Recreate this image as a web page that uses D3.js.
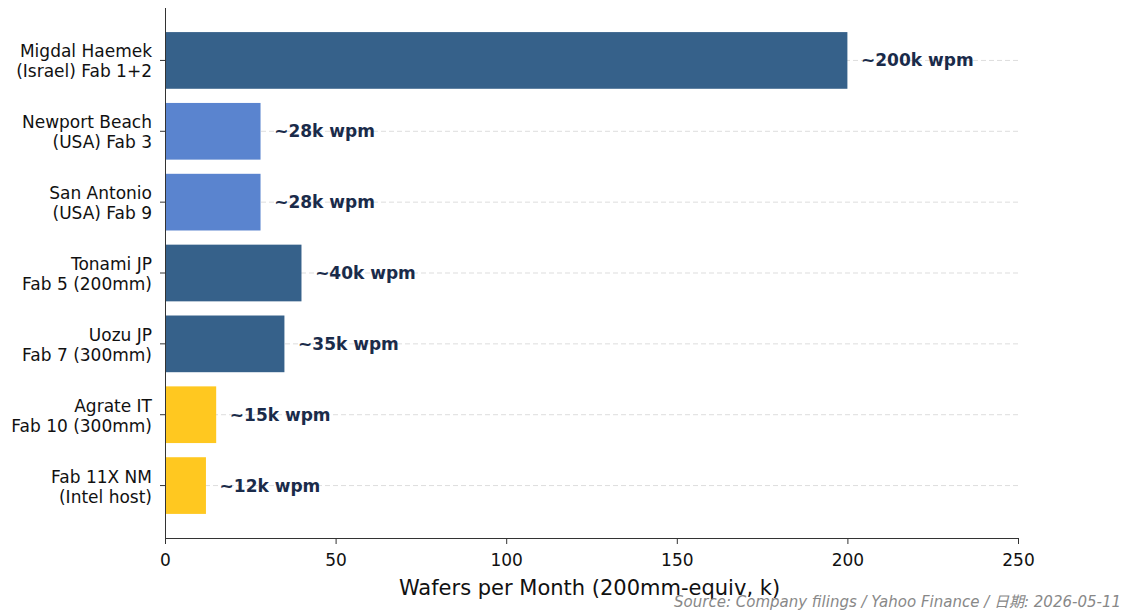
<!DOCTYPE html>
<html><head><meta charset="utf-8">
<script src="https://cdn.jsdelivr.net/npm/d3@7"></script>
<style>body{margin:0;background:#fff;} svg{display:block;font-family:"DejaVu Sans",sans-serif;}</style>
</head><body>
<svg id="c" width="1125" height="612"></svg>
<script>
const categories = [["Migdal Haemek","(Israel) Fab 1+2"],["Newport Beach","(USA) Fab 3"],["San Antonio","(USA) Fab 9"],["Tonami JP","Fab 5 (200mm)"],["Uozu JP","Fab 7 (300mm)"],["Agrate IT","Fab 10 (300mm)"],["Fab 11X NM","(Intel host)"]];
const values = [200, 28, 28, 40, 35, 15, 12];
const valueLabels = ["~200k wpm","~28k wpm","~28k wpm","~40k wpm","~35k wpm","~15k wpm","~12k wpm"];
const groups = ["own","us","us","own","own","partner","partner"];
const xTicks = [0, 50, 100, 150, 200, 250];
const colorMap = {own:"#36618a", us:"#5a84cf", partner:"#ffc820"};

const svg = d3.select("#c");
const L = 165, R = 1018, T = 8, B = 538;
const x = d3.scaleLinear().domain([0, 250]).range([L, R]);
const y = d3.scaleLinear().domain([-0.74, 6.74]).range([T, B]);
const bh = y(0.4) - y(-0.4);

// grid
svg.append("g").selectAll("line").data(values).join("line")
  .attr("x1", L).attr("x2", R)
  .attr("y1", (d,i)=>y(i)).attr("y2", (d,i)=>y(i))
  .attr("stroke", "#dddddd").attr("stroke-width", 1).attr("stroke-dasharray", "5,3");

// bars
svg.append("g").selectAll("rect").data(values).join("rect")
  .attr("x", x(0)).attr("y", (d,i)=>y(i) - bh/2)
  .attr("width", d => x(d) - x(0)).attr("height", bh)
  .attr("fill", (d,i)=>colorMap[groups[i]]);

// value labels
svg.append("g").selectAll("text").data(values).join("text")
  .attr("x", d => x(d + 4)).attr("y", (d,i)=>y(i))
  .attr("dy", "0.35em")
  .attr("font-size", 17).attr("font-weight", "bold").attr("fill", "#1a2b4a")
  .text((d,i)=>valueLabels[i]);

// x axis
const xAxis = d3.axisBottom(x).tickValues(xTicks).tickSize(6).tickPadding(10);
const gx = svg.append("g").attr("transform", `translate(0,${B})`).call(xAxis);
gx.select(".domain").attr("stroke", "#333").attr("d", `M${L},0.5H${R}`);
gx.selectAll(".tick line").attr("stroke", "#333");
gx.selectAll(".tick text").attr("font-size", 17).attr("fill", "#111").attr("font-family", "DejaVu Sans");

// y axis
const gy = svg.append("g");
gy.append("line").attr("x1", L+0.5).attr("x2", L+0.5).attr("y1", T).attr("y2", B).attr("stroke", "#333");
const yt = gy.selectAll("g.t").data(categories).join("g").attr("class","t");
yt.append("line").attr("x1", L-5).attr("x2", L).attr("y1", (d,i)=>y(i)).attr("y2", (d,i)=>y(i)).attr("stroke", "#333");
yt.append("text").attr("text-anchor", "end").attr("font-size", 17).attr("fill", "#111")
  .each(function(d,i){
    const t = d3.select(this);
    d.forEach((line, k) => {
      t.append("tspan").attr("x", L - 13).attr("y", y(i) + (k === 0 ? -9 : 11)).attr("dy", "0.35em").text(line);
    });
  });

// x label
svg.append("text").attr("x", (L+R)/2 - 2).attr("y", 595).attr("text-anchor", "middle")
  .attr("font-size", 21).attr("fill", "#111").text("Wafers per Month (200mm-equiv, k)");

// source
svg.append("text").attr("x", 1121).attr("y", 607).attr("text-anchor", "end")
  .attr("font-size", 15).attr("font-style", "italic").attr("fill", "#888")
  .attr("font-family", "'DejaVu Sans','Noto Sans CJK SC',sans-serif")
  .text("Source: Company filings / Yahoo Finance / 日期: 2026-05-11");
</script>
</body></html>
